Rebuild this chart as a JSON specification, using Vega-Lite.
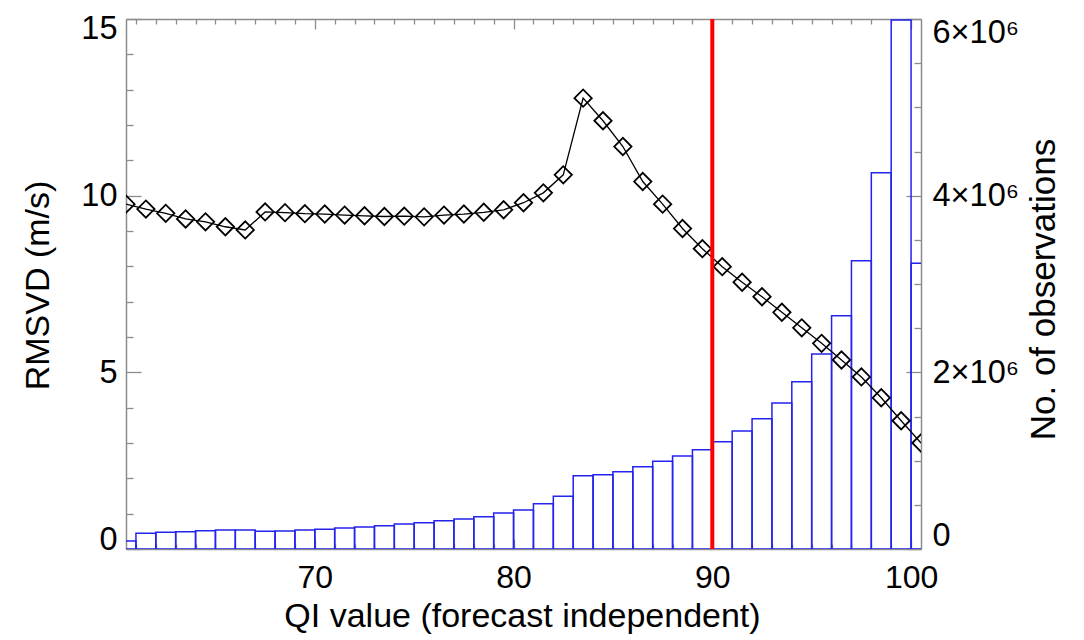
{
  "$schema": "https://vega.github.io/schema/vega-lite/v6.json",
  "width": 795,
  "height": 530,
  "autosize": {"type": "none"},
  "padding": {"left": 126, "top": 19, "right": 163, "bottom": 91},
  "background": "white",
  "config": {
    "view": {"stroke": null},
    "axis": {
      "domainColor": "#8c8c8c",
      "domainWidth": 1.5,
      "tickColor": "#8c8c8c",
      "tickWidth": 1.3,
      "labelFont": "Liberation Sans",
      "labelFontSize": 32.5,
      "labelColor": "black",
      "titleFont": "Liberation Sans",
      "titleFontSize": 34,
      "titleFontWeight": "normal",
      "titleColor": "black",
      "grid": false,
      "labelOverlap": false
    }
  },
  "layer": [
    {
      "data": {"values": [
        {"lo": 60, "hi": 61, "count": 90000},
        {"lo": 61, "hi": 62, "count": 178000},
        {"lo": 62, "hi": 63, "count": 189000},
        {"lo": 63, "hi": 64, "count": 196000},
        {"lo": 64, "hi": 65, "count": 207000},
        {"lo": 65, "hi": 66, "count": 215000},
        {"lo": 66, "hi": 67, "count": 215000},
        {"lo": 67, "hi": 68, "count": 200000},
        {"lo": 68, "hi": 69, "count": 204000},
        {"lo": 69, "hi": 70, "count": 215000},
        {"lo": 70, "hi": 71, "count": 223000},
        {"lo": 71, "hi": 72, "count": 238000},
        {"lo": 72, "hi": 73, "count": 249000},
        {"lo": 73, "hi": 74, "count": 264000},
        {"lo": 74, "hi": 75, "count": 283000},
        {"lo": 75, "hi": 76, "count": 298000},
        {"lo": 76, "hi": 77, "count": 321000},
        {"lo": 77, "hi": 78, "count": 340000},
        {"lo": 78, "hi": 79, "count": 366000},
        {"lo": 79, "hi": 80, "count": 408000},
        {"lo": 80, "hi": 81, "count": 441000},
        {"lo": 81, "hi": 82, "count": 513000},
        {"lo": 82, "hi": 83, "count": 596000},
        {"lo": 83, "hi": 84, "count": 830000},
        {"lo": 84, "hi": 85, "count": 841000},
        {"lo": 85, "hi": 86, "count": 875000},
        {"lo": 86, "hi": 87, "count": 932000},
        {"lo": 87, "hi": 88, "count": 992000},
        {"lo": 88, "hi": 89, "count": 1053000},
        {"lo": 89, "hi": 90, "count": 1124000},
        {"lo": 90, "hi": 91, "count": 1215000},
        {"lo": 91, "hi": 92, "count": 1336000},
        {"lo": 92, "hi": 93, "count": 1475000},
        {"lo": 93, "hi": 94, "count": 1653000},
        {"lo": 94, "hi": 95, "count": 1894000},
        {"lo": 95, "hi": 96, "count": 2208000},
        {"lo": 96, "hi": 97, "count": 2641000},
        {"lo": 97, "hi": 98, "count": 3264000},
        {"lo": 98, "hi": 99, "count": 4260000},
        {"lo": 99, "hi": 100, "count": 5990000},
        {"lo": 100, "hi": 101, "count": 3234000}
      ]},
      "mark": {"type": "bar", "filled": false, "color": "#2323ee", "strokeWidth": 1.5, "clip": true},
      "encoding": {
        "x": {
          "field": "lo", "type": "quantitative",
          "scale": {"domain": [60.5, 100.5], "nice": false, "zero": false},
          "axis": {
            "orient": "bottom",
            "values": [61,62,63,64,65,66,67,68,69,70,71,72,73,74,75,76,77,78,79,80,81,82,83,84,85,86,87,88,89,90,91,92,93,94,95,96,97,98,99,100],
            "labelExpr": "datum.value % 10 === 0 ? datum.label : ''",
            "tickSize": {"condition": {"test": "datum.value % 10 === 0", "value": -10}, "value": -5},
            "labelFontSize": 32,
            "labelPadding": 23,
            "labelFlush": false,
            "title": "QI value (forecast independent)",
            "titleX": 396,
            "titleY": 77,
            "titleAlign": "center",
            "titleBaseline": "alphabetic"
          }
        },
        "x2": {"field": "hi"},
        "y": {
          "field": "count", "type": "quantitative",
          "scale": {"domain": [0, 6000000], "nice": false, "zero": true},
          "axis": {
            "orient": "right",
            "values": [0,500000,1000000,1500000,2000000,2500000,3000000,3500000,4000000,4500000,5000000,5500000,6000000],
            "labelExpr": "datum.value % 2000000 === 0 ? (datum.value === 0 ? '0' : (datum.value / 1000000) + '×10⁶') : ''",
            "tickSize": {"condition": {"test": "datum.value % 2000000 === 0", "value": -15}, "value": -7},
            "labelPadding": 26,
            "labelFlush": true,
            "labelFlushOffset": 3,
            "title": "No. of observations",
            "titleFontSize": 35,
            "titleAngle": -90,
            "titleX": 122,
            "titleY": 270,
            "titleAlign": "center",
            "titleBaseline": "middle"
          }
        },
        "y2": {"datum": 0}
      }
    },
    {
      "data": {"values": [
        {"q": 60.5, "rmsvd": 9.76},
        {"q": 61.5, "rmsvd": 9.62},
        {"q": 62.5, "rmsvd": 9.5},
        {"q": 63.5, "rmsvd": 9.34},
        {"q": 64.5, "rmsvd": 9.26},
        {"q": 65.5, "rmsvd": 9.12},
        {"q": 66.5, "rmsvd": 9.03},
        {"q": 67.5, "rmsvd": 9.54},
        {"q": 68.5, "rmsvd": 9.52},
        {"q": 69.5, "rmsvd": 9.49},
        {"q": 70.5, "rmsvd": 9.48},
        {"q": 71.5, "rmsvd": 9.45},
        {"q": 72.5, "rmsvd": 9.43},
        {"q": 73.5, "rmsvd": 9.41},
        {"q": 74.5, "rmsvd": 9.42},
        {"q": 75.5, "rmsvd": 9.4},
        {"q": 76.5, "rmsvd": 9.45},
        {"q": 77.5, "rmsvd": 9.48},
        {"q": 78.5, "rmsvd": 9.53},
        {"q": 79.5, "rmsvd": 9.6},
        {"q": 80.5, "rmsvd": 9.8},
        {"q": 81.5, "rmsvd": 10.08},
        {"q": 82.5, "rmsvd": 10.59},
        {"q": 83.5, "rmsvd": 12.76},
        {"q": 84.5, "rmsvd": 12.12},
        {"q": 85.5, "rmsvd": 11.39},
        {"q": 86.5, "rmsvd": 10.4},
        {"q": 87.5, "rmsvd": 9.76},
        {"q": 88.5, "rmsvd": 9.07},
        {"q": 89.5, "rmsvd": 8.5},
        {"q": 90.5, "rmsvd": 7.99},
        {"q": 91.5, "rmsvd": 7.55},
        {"q": 92.5, "rmsvd": 7.14},
        {"q": 93.5, "rmsvd": 6.7},
        {"q": 94.5, "rmsvd": 6.26},
        {"q": 95.5, "rmsvd": 5.82},
        {"q": 96.5, "rmsvd": 5.35},
        {"q": 97.5, "rmsvd": 4.87},
        {"q": 98.5, "rmsvd": 4.28},
        {"q": 99.5, "rmsvd": 3.63},
        {"q": 100.5, "rmsvd": 3.0}
      ]},
      "mark": {
        "type": "line", "color": "black", "strokeWidth": 1.3, "clip": true,
        "point": {"shape": "diamond", "filled": false, "size": 300, "strokeWidth": 1.8, "color": "black"}
      },
      "encoding": {
        "x": {
          "field": "q", "type": "quantitative",
          "axis": {
            "orient": "top",
            "values": [61,62,63,64,65,66,67,68,69,70,71,72,73,74,75,76,77,78,79,80,81,82,83,84,85,86,87,88,89,90,91,92,93,94,95,96,97,98,99,100],
            "labels": false,
            "tickSize": {"condition": {"test": "datum.value % 10 === 0", "value": -10}, "value": -5},
            "title": null
          }
        },
        "y": {
          "field": "rmsvd", "type": "quantitative",
          "scale": {"domain": [0, 15], "nice": false},
          "axis": {
            "orient": "left",
            "values": [0,1,2,3,4,5,6,7,8,9,10,11,12,13,14,15],
            "labelExpr": "datum.value % 5 === 0 ? datum.label : ''",
            "tickSize": {"condition": {"test": "datum.value % 5 === 0", "value": -15}, "value": -7},
            "labelPadding": 24,
            "labelFlush": true,
            "labelFlushOffset": 7,
            "title": "RMSVD (m/s)",
            "titleAngle": -90,
            "titleX": -88,
            "titleY": 266,
            "titleAlign": "center",
            "titleBaseline": "middle"
          }
        }
      }
    },
    {
      "data": {"values": [{"cut": 90}]},
      "mark": {"type": "rule", "color": "#ff0000", "strokeWidth": 4},
      "encoding": {"x": {"field": "cut", "type": "quantitative", "axis": null}}
    }
  ],
  "resolve": {"scale": {"y": "independent"}, "axis": {"x": "independent", "y": "independent"}}
}
